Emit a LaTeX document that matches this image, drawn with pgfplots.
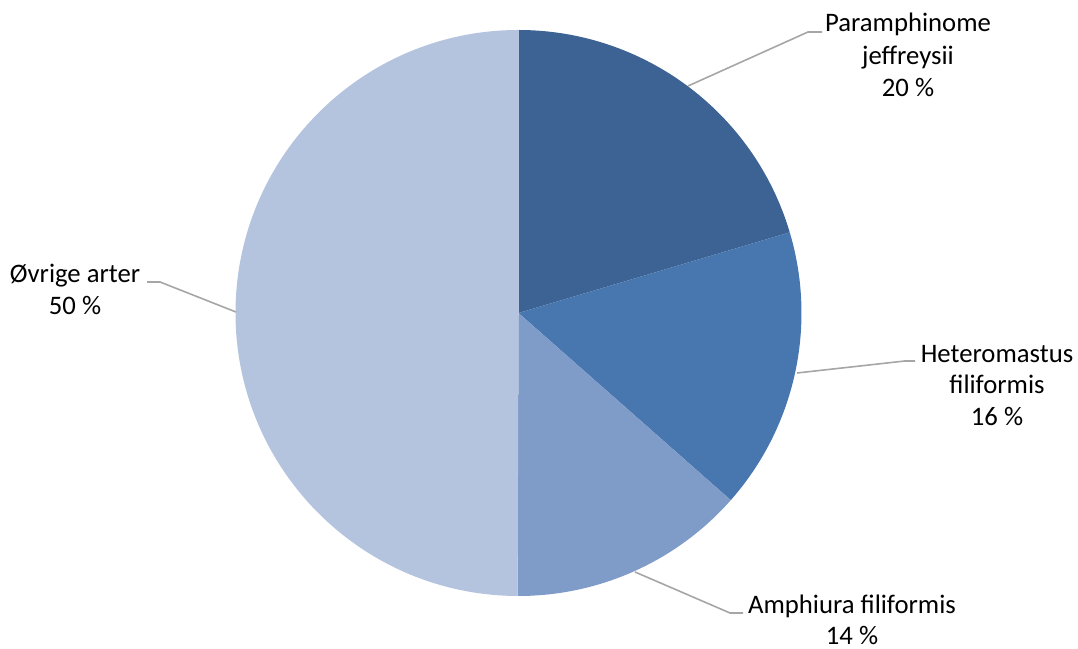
\documentclass[border=0pt]{standalone}
\usepackage{pgfplots}
\pgfplotsset{compat=1.18}
\usepackage{pgfplotstable}
\usepackage{fontspec}
\setmainfont{Carlito}

\definecolor{slice0}{HTML}{3C6394}
\definecolor{slice1}{HTML}{4877B0}
\definecolor{slice2}{HTML}{7F9CC9}
\definecolor{slice3}{HTML}{B4C3DE}
\definecolor{leader}{HTML}{A6A6A6}

% share of each species, clockwise from 12 o'clock
\pgfplotstableread{
value
20.4
16.1
13.55
49.95
}\piedata

\begin{document}
\begin{tikzpicture}[
    lbl/.style={anchor=base, inner sep=0pt, font=\fontsize{26.7bp}{32bp}\selectfont},
]
\begin{axis}[
    hide axis,
    x=1bp, y=1bp,
    xmin=0, xmax=1078,
    ymin=0, ymax=649,
    clip=false,
]
\pgfplotsextra{
  \xdef\cum{0}
  \pgfplotstableforeachcolumnelement{value}\of\piedata\as\v{
    \pgfmathsetmacro\a{90-3.6*\cum}
    \pgfmathsetmacro\b{90-3.6*(\cum+\v)}
    \fill[fill=slice\pgfplotstablerow] (axis cs:518.5,336)
      -- (axis cs:{518.5+283*cos(\a)},{336+283*sin(\a)})
      arc[start angle=\a, end angle=\b, radius=283bp] -- cycle;
    \pgfmathsetmacro\c{\cum+\v}\xdef\cum{\c}
  }
}

% leader lines
\addplot[leader, line width=1.6bp, mark=none] coordinates {(688,563) (808,617) (822,617)};
\addplot[leader, line width=1.6bp, mark=none] coordinates {(797,276) (905,288) (915,288)};
\addplot[leader, line width=1.6bp, mark=none] coordinates {(635,77) (730,36) (743,36)};
\addplot[leader, line width=1.6bp, mark=none] coordinates {(236,337) (160,367) (147,367)};

% labels
\node[lbl] at (axis cs:908,617) {Paramphinome};
\node[lbl] at (axis cs:908,584) {jeffreysii};
\node[lbl] at (axis cs:908,552) {20 \%};

\node[lbl] at (axis cs:997,286) {Heteromastus};
\node[lbl] at (axis cs:997,255) {filiformis};
\node[lbl] at (axis cs:997,223) {16 \%};

\node[lbl] at (axis cs:852,35) {Amphiura filiformis};
\node[lbl] at (axis cs:852,4) {14 \%};

\node[lbl] at (axis cs:75,366) {Øvrige arter};
\node[lbl] at (axis cs:75,334) {50 \%};

\coordinate (bl) at (rel axis cs:0,0);
\coordinate (tr) at (rel axis cs:1,1);
\end{axis}
\pgfresetboundingbox
\path (bl) rectangle (tr);
\end{tikzpicture}
\end{document}
